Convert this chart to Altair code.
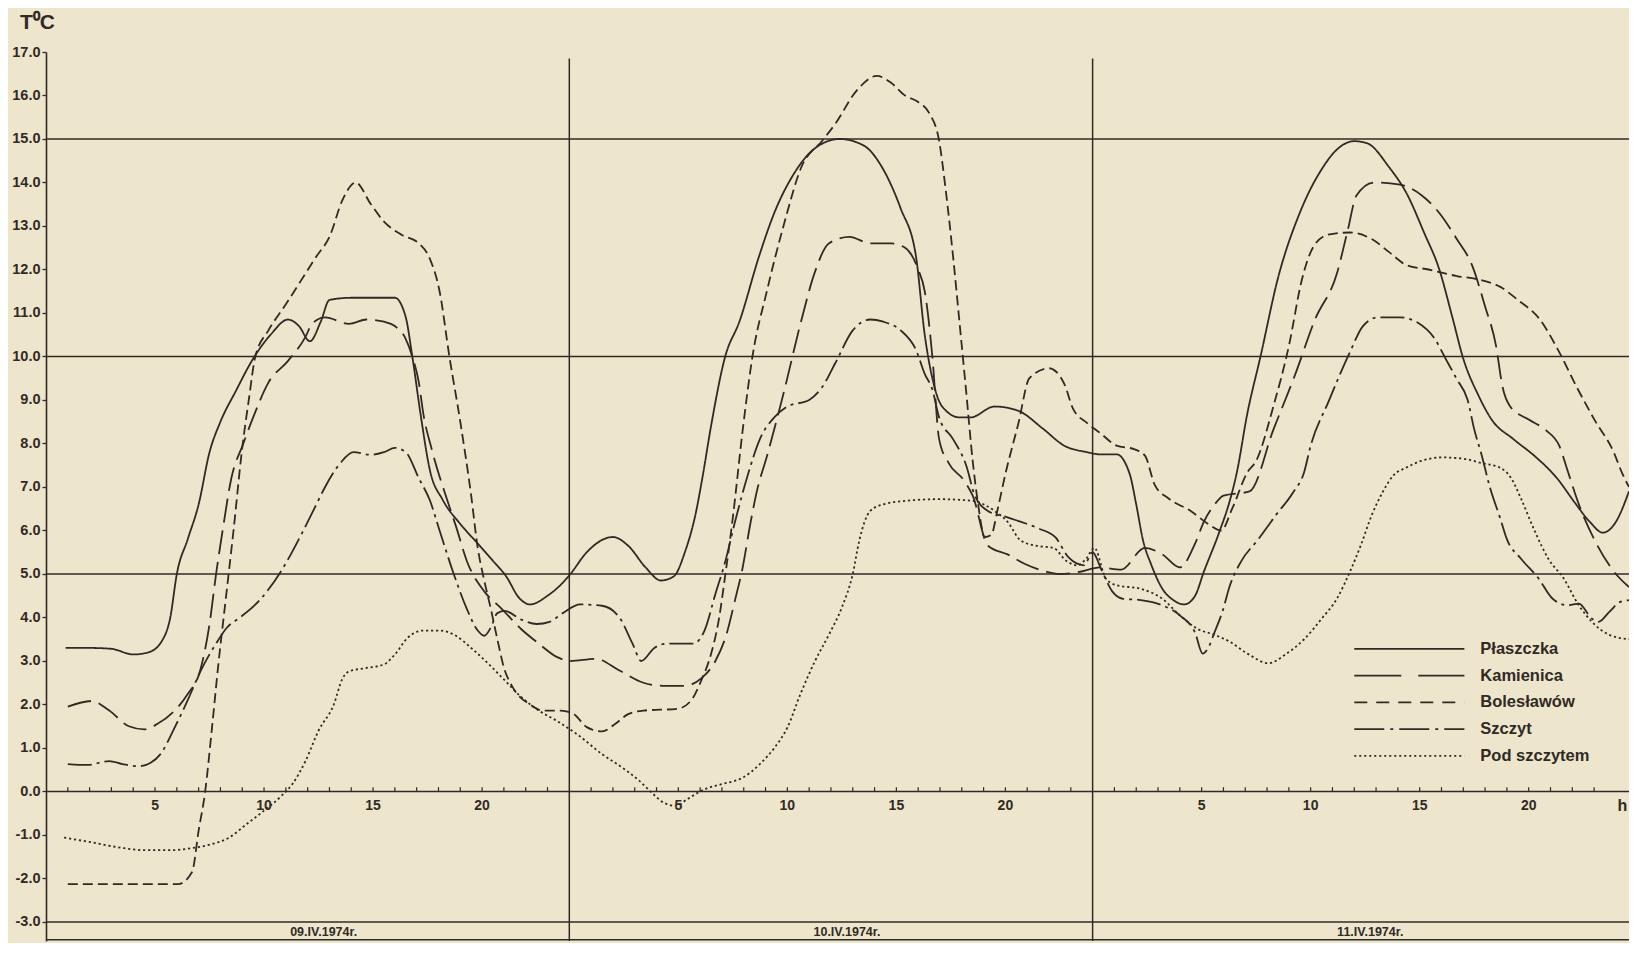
import altair as alt
import pandas as pd

# ---------------- data ----------------
stations = ["Płaszczka", "Kamienica", "Bolesławów", "Szczyt", "Pod szczytem"]
dates = ["09.IV.1974r.", "10.IV.1974r.", "11.IV.1974r."]
hour_labels = [5, 10, 15, 20]
y_ticks = list(range(-3, 18))
grid_levels = [15, 10, 5, 0, -3]
day_bounds = [24, 48]

plaszczka_h = [0.9, 2, 3, 4, 4.7, 5.3, 5.7, 6.0, 6.5, 7.0,
               7.5, 8.0, 8.7, 9.5, 10.3, 11.1, 11.6, 12.1, 12.6, 13.0,
               14, 15, 16, 16.5, 16.8, 17.2, 17.6, 18.2, 19.0, 19.8,
               20.5, 21.1, 21.7, 22.2, 23.0, 23.6, 24.05, 24.8, 26.0, 26.7,
               27.5, 28.2, 28.8, 29.3, 29.8, 30.1, 30.5, 31.15, 31.8, 32.7,
               33.4, 34.3, 35.3, 36.4, 37.5, 38.4, 39.2, 39.9, 40.3, 40.65,
               41.1, 41.9, 42.4, 43.5, 44.6, 45.7, 46.7, 47.75, 48.35, 49.1,
               49.7, 50.0, 50.3, 50.7, 51.2, 51.7, 52.2, 52.7, 53.1, 53.8,
               54.3, 54.6, 55.1, 55.7, 56.5, 57.5, 58.5, 59.3, 60.0, 60.6,
               61.6, 62.4, 63.2, 63.9, 64.5, 65.0, 65.7, 66.3, 67.3, 68.3,
               69.3, 70.1, 70.8, 71.4, 72.0, 72.6]
plaszczka_t = [3.3, 3.3, 3.28, 3.15, 3.2, 3.45, 4.0, 5.0, 5.8, 6.6,
               7.8, 8.5, 9.2, 9.95, 10.5, 10.85, 10.7, 10.35, 10.8, 11.3,
               11.35, 11.35, 11.35, 10.9, 10.0, 8.6, 7.4, 6.7, 6.15, 5.7,
               5.3, 4.95, 4.45, 4.3, 4.5, 4.75, 5.0, 5.5, 5.85, 5.65,
               5.15, 4.85, 4.95, 5.5, 6.4, 7.2, 8.4, 10.0, 10.8, 12.3,
               13.3, 14.2, 14.8, 15.0, 14.85, 14.3, 13.4, 12.3, 10.5, 9.5,
               8.85, 8.6, 8.6, 8.85, 8.75, 8.35, 7.95, 7.8, 7.75, 7.75,
               7.3, 6.6, 5.8, 5.2, 4.66, 4.4, 4.3, 4.5, 5.05, 5.95,
               6.7, 7.3, 8.7, 10.0, 11.8, 13.3, 14.3, 14.8, 14.95, 14.9,
               14.35, 13.75, 12.85, 12.0, 10.9, 9.95, 9.1, 8.55, 8.1, 7.7,
               7.2, 6.65, 6.2, 5.95, 6.2, 6.9]

kamienica_h = [1.0, 2.1, 2.9, 3.8, 4.5, 5.1, 5.9, 6.5, 7.07, 7.5,
               7.8, 8.1, 8.5, 9.05, 9.5, 10.2, 11.1, 11.9, 12.2, 12.8,
               13.9, 14.7, 15.5, 16.0, 16.5, 16.8, 17.1, 17.3, 17.7, 18.4,
               18.8, 19.3, 20.1, 20.9, 21.8, 22.6, 23.4, 24.05, 25.2, 26.3,
               27.4, 28.3, 29.3, 30.05, 30.7, 31.2, 31.6, 31.95, 32.3, 32.6,
               33.06, 33.85, 34.6, 35.27, 35.9, 36.85, 37.8, 38.74, 39.4, 40.0,
               40.3, 40.65, 40.96, 41.4, 42.1, 42.5, 43.2, 44.1, 44.9, 45.7,
               46.5, 47.3, 48.35, 49.3, 50.4, 51.2, 52.0, 52.7, 53.1, 53.6,
               54.0, 55.2, 56.3, 57.3, 58.2, 59.2, 59.7, 60.1, 60.9, 62.1,
               63.1, 63.9, 64.7, 65.4, 66.0, 66.5, 66.8, 67.15, 68.0, 68.8,
               69.4, 69.8, 70.3, 71.0, 72.0, 72.6]
kamienica_t = [1.95, 2.08, 1.86, 1.5, 1.43, 1.55, 1.86, 2.24, 2.78, 3.85,
               5.0, 6.0, 7.2, 8.0, 8.6, 9.4, 9.9, 10.45, 10.75, 10.9,
               10.75, 10.85, 10.8, 10.7, 10.4, 10.0, 9.4, 8.7, 7.85, 6.7,
               6.1, 5.3, 4.6, 4.2, 3.73, 3.4, 3.1, 3.0, 3.05, 2.78,
               2.5, 2.43, 2.43, 2.6, 3.0, 3.6, 4.4, 5.15, 6.15, 6.9,
               7.7, 9.2, 10.75, 11.95, 12.6, 12.75, 12.6, 12.6, 12.5, 12.0,
               11.5, 10.0, 8.1, 7.55, 7.15, 6.8, 5.65, 5.45, 5.23, 5.08,
               5.0, 5.04, 5.15, 5.1, 5.6, 5.45, 5.15, 5.7, 6.2, 6.6,
               6.8, 6.9, 8.33, 9.6, 10.85, 11.9, 12.9, 13.7, 14.0, 13.95,
               13.7, 13.3, 12.7, 12.1, 11.15, 10.25, 9.3, 8.85, 8.55, 8.3,
               7.95, 7.35, 6.6, 5.8, 5.0, 4.7]

boleslawow_h = [1.0, 3.0, 6.05, 6.7, 7.0, 7.3, 7.6, 7.9, 8.25, 8.6,
                9.0, 9.3, 9.6, 10.2, 11.0, 11.7, 12.4, 13.0, 13.6, 14.2,
                14.9, 15.5, 16.3, 17.1, 17.6, 18.05, 18.5, 19.0, 19.5, 19.8,
                20.1, 20.4, 20.7, 21.0, 21.4, 22.2, 22.8, 23.6, 24.2, 24.8,
                25.5, 26.1, 26.7, 27.4, 28.95, 29.6, 30.05, 30.5, 30.85, 31.16,
                31.5, 31.95, 32.4, 33.06, 33.85, 34.64, 35.6, 36.2, 37.16, 38.1,
                38.74, 39.4, 40.0, 40.5, 40.96, 41.27, 41.6, 41.9, 42.2, 42.5,
                42.75, 43.05, 43.35, 43.65, 44.0, 44.6, 45.1, 46.0, 46.7, 47.1,
                47.75, 48.35, 49.1, 49.9, 50.4, 50.85, 51.5, 52.5, 53.3, 53.9,
                54.4, 55.1, 55.5, 56.3, 57.0, 57.6, 58.1, 58.8, 59.8, 60.8,
                61.6, 62.4, 63.4, 64.7, 65.7, 66.7, 67.5, 68.5, 69.4, 70.2,
                71.0, 71.9, 72.3, 72.6]
boleslawow_t = [-2.13, -2.13, -2.13, -1.85, -0.9, 0.0, 1.4, 2.9, 4.45, 6.0,
                7.9, 9.0, 10.0, 10.6, 11.2, 11.75, 12.3, 12.75, 13.6, 14.0,
                13.5, 13.1, 12.8, 12.6, 12.25, 11.5, 10.0, 8.5, 6.8, 5.6,
                4.85, 4.2, 3.5, 2.85, 2.4, 2.0, 1.86, 1.86, 1.78, 1.48,
                1.38, 1.55, 1.78, 1.86, 1.9, 2.1, 2.55, 3.16, 3.93, 5.0,
                6.3, 8.3, 10.0, 11.5, 13.05, 14.35, 14.96, 15.35, 16.1, 16.45,
                16.3, 16.0, 15.85, 15.6, 14.96, 13.8, 12.3, 10.76, 9.2, 7.6,
                6.6, 5.85, 5.9, 6.5, 7.3, 8.47, 9.5, 9.73, 9.37, 8.8,
                8.47, 8.24, 7.95, 7.87, 7.72, 7.05, 6.73, 6.45, 6.15, 6.0,
                6.5, 7.34, 7.6, 8.87, 10.24, 11.77, 12.5, 12.8, 12.85, 12.7,
                12.4, 12.1, 12.0, 11.85, 11.77, 11.6, 11.3, 10.86, 10.1, 9.3,
                8.56, 7.8, 7.3, 7.0]

szczyt_h = [1.0, 1.9, 2.9, 3.5, 4.3, 4.8, 5.25, 5.9, 6.5, 7.1,
            7.8, 8.3, 8.9, 9.8, 10.8, 11.7, 12.4, 12.8, 13.5, 14.1,
            14.9, 15.5, 16.0, 16.5, 17.1, 17.6, 18.05, 18.7, 19.3, 19.8,
            20.1, 20.4, 20.7, 21.05, 21.8, 22.5, 23.1, 23.7, 24.5, 25.5,
            26.3, 26.9, 27.3, 27.9, 28.5, 29.7, 30.2, 30.7, 31.16, 31.6,
            32.2, 32.74, 33.4, 34.0, 35.0, 35.6, 36.2, 37.0, 37.8, 38.4,
            39.2, 39.9, 40.3, 40.65, 40.96, 41.6, 42.2, 42.6, 43.2, 44.1,
            45.5, 46.3, 46.9, 47.6, 48.0, 48.4, 48.9, 49.4, 50.2, 51.2,
            52.0, 52.7, 53.05, 53.3, 53.6, 53.95, 54.3, 54.8, 55.6, 56.4,
            57.2, 57.7, 58.0, 58.8, 59.8, 60.4, 61.1, 62.1, 62.9, 63.7,
            64.2, 64.7, 65.2, 65.5, 65.85, 66.2, 66.7, 67.0, 67.65, 68.45,
            69.1, 69.8, 70.3, 70.9, 71.2, 71.7, 72.2, 72.6]
szczyt_t = [0.63, 0.61, 0.7, 0.63, 0.58, 0.66, 0.86, 1.47, 2.1, 2.78,
            3.4, 3.77, 4.0, 4.4, 5.08, 5.9, 6.6, 7.0, 7.55, 7.8,
            7.74, 7.8, 7.9, 7.8, 7.2, 6.7, 6.0, 5.0, 4.2, 3.7,
            3.58, 3.77, 4.1, 4.15, 3.95, 3.85, 3.9, 4.1, 4.3, 4.27,
            4.0, 3.4, 3.0, 3.3, 3.4, 3.4, 3.7, 4.54, 5.3, 6.2,
            7.3, 8.1, 8.6, 8.85, 9.0, 9.3, 9.85, 10.6, 10.85, 10.8,
            10.6, 10.15, 9.6, 9.24, 8.6, 8.1, 7.5, 6.8, 6.45, 6.3,
            6.05, 5.84, 5.38, 5.2, 5.5, 5.1, 4.6, 4.43, 4.4, 4.28,
            4.05, 3.65, 3.17, 3.3, 3.67, 4.13, 4.74, 5.28, 5.8, 6.35,
            6.88, 7.34, 7.95, 8.94, 10.1, 10.7, 10.9, 10.9, 10.78, 10.4,
            9.94, 9.48, 9.0, 8.33, 7.72, 7.03, 6.27, 5.8, 5.35, 4.9,
            4.43, 4.28, 4.32, 3.97, 3.9, 4.13, 4.36, 4.4]

pod_h = [0.83, 2.1, 3.4, 4.5, 5.7, 6.7, 7.6, 8.4, 9.2, 10.0,
         10.8, 11.3, 11.9, 12.5, 13.2, 13.6, 13.9, 14.7, 15.5, 16.0,
         16.6, 17.3, 18.05, 18.8, 19.5, 20.3, 21.05, 21.8, 22.6, 23.4,
         24.4, 25.5, 26.4, 27.2, 27.85, 28.3, 28.9, 29.4, 30.2, 31.0,
         31.96, 32.74, 33.4, 34.0, 34.6, 35.27, 35.9, 36.5, 37.0, 37.3,
         37.8, 38.4, 39.4, 40.96, 42.5, 43.5, 44.1, 44.7, 45.4, 46.2,
         46.8, 47.3, 47.7, 48.08, 48.6, 49.1, 50.2, 51.2, 52.0, 52.8,
         53.6, 54.3, 55.1, 56.06, 56.9, 57.7, 58.5, 59.2, 59.8, 60.3,
         60.8, 61.3, 61.8, 62.4, 63.07, 64.05, 65.0, 65.85, 66.66, 67.2,
         67.65, 68.3, 68.9, 69.6, 70.3, 70.9, 71.7, 72.6]
pod_t = [-1.06, -1.17, -1.29, -1.35, -1.35, -1.3, -1.21, -1.06, -0.75, -0.44,
         -0.1, 0.17, 0.7, 1.4, 2.0, 2.6, 2.76, 2.84, 2.92, 3.15,
         3.54, 3.7, 3.7, 3.58, 3.3, 2.93, 2.55, 2.17, 1.86, 1.63,
         1.3, 0.86, 0.56, 0.25, -0.06, -0.25, -0.33, -0.18, 0.05, 0.17,
         0.32, 0.63, 1.0, 1.47, 2.24, 3.0, 3.6, 4.23, 5.0, 5.77,
         6.45, 6.6, 6.68, 6.72, 6.68, 6.45, 6.2, 5.77, 5.65, 5.6,
         5.3, 5.2, 5.35, 5.6, 4.9, 4.74, 4.66, 4.43, 4.05, 3.74,
         3.6, 3.44, 3.17, 2.95, 3.17, 3.5, 3.97, 4.43, 5.05, 5.66,
         6.35, 6.88, 7.27, 7.45, 7.6, 7.68, 7.65, 7.55, 7.45, 7.2,
         6.73, 5.96, 5.35, 4.9, 4.28, 3.9, 3.6, 3.5]

# ---------------- tables ----------------
series = {
    "Płaszczka": (plaszczka_h, plaszczka_t),
    "Kamienica": (kamienica_h, kamienica_t),
    "Bolesławów": (boleslawow_h, boleslawow_t),
    "Szczyt": (szczyt_h, szczyt_t),
    "Pod szczytem": (pod_h, pod_t),
}
rows = []
for name, (hs, ts) in series.items():
    assert len(hs) == len(ts), name
    rows += [{"hour": h, "temp": t, "station": name} for h, t in zip(hs, ts)]
df = pd.DataFrame(rows)

ticks_df = pd.DataFrame({"hour": [h for h in range(1, 73) if h % 24 != 0]})
hl_df = pd.DataFrame([{"hour": d * 24 + v, "label": str(v)} for d in range(3) for v in hour_labels])
date_df = pd.DataFrame({"hour": [d * 24 + 12 for d in range(3)], "label": dates})
grid_df = pd.DataFrame({"v": grid_levels})
bound_df = pd.DataFrame({"hour": day_bounds})
one_df = pd.DataFrame({"k": [0]})
legend_df = pd.DataFrame({"entry": stations, "i": list(range(len(stations)))})

# ---------------- style ----------------
INK = "#302a24"
BG = "#eee5cd"
FONT = "Liberation Sans"
X_MAX = 72.6
Y_MIN, Y_MAX = -3.437, 17.0

xs = alt.Scale(domain=[0, X_MAX], nice=False, zero=False)
ys = alt.Scale(domain=[Y_MIN, Y_MAX], nice=False, zero=False)

dash_range = [[1, 0], [24, 8], [10, 5], [24, 5, 3, 5], [2.2, 2.8]]
legend_dash = [[1, 0], [47, 17], [13, 9], [30, 6, 3, 6], [2, 3]]

y_axis = alt.Axis(
    values=y_ticks, title=None, grid=False,
    labelExpr="replace(format(datum.value, '.1f'), '\u2212', '-')",
    domain=True, domainColor=INK, domainWidth=1.6,
    ticks=True, tickSize=4, tickColor=INK, tickWidth=1.3,
    labelFont=FONT, labelFontSize=14.5, labelFontWeight="bold",
    labelColor=INK, labelPadding=2,
)


def Y(field):
    return alt.Y(field, scale=ys, axis=y_axis)


def X(field):
    return alt.X(field, scale=xs, axis=None)


lines = alt.Chart(df).mark_line(
    color=INK, strokeWidth=1.8, interpolate="monotone", clip=True
).encode(
    x=X("hour:Q"),
    y=Y("temp:Q"),
    strokeDash=alt.StrokeDash(
        "station:N", scale=alt.Scale(domain=stations, range=dash_range), legend=None
    ),
)

grid = alt.Chart(grid_df).mark_rule(color=INK, strokeWidth=1.5).encode(y=Y("v:Q"))

bounds = alt.Chart(bound_df).mark_rule(color=INK, strokeWidth=1.5).transform_calculate(
    top="16.85", bot=str(Y_MIN)
).encode(x=X("hour:Q"), y=Y("top:Q"), y2="bot:Q")

bottom_line = alt.Chart(one_df).mark_rule(color=INK, strokeWidth=1.5).transform_calculate(
    yb="-3.41"
).encode(y=Y("yb:Q"))

ticks = alt.Chart(ticks_df).mark_rule(color=INK, strokeWidth=1.2).transform_calculate(
    y0="0", y1="0.1"
).encode(x=X("hour:Q"), y=Y("y0:Q"), y2="y1:Q")

hour_text = alt.Chart(hl_df).mark_text(
    font=FONT, fontSize=14, fontWeight="bold", color=INK, baseline="middle", dy=15
).transform_calculate(y0="0").encode(x=X("hour:Q"), y=Y("y0:Q"), text="label:N")

h_text = alt.Chart(one_df).mark_text(
    font=FONT, fontSize=16, fontWeight="bold", color=INK, baseline="middle", dy=15, text="h"
).transform_calculate(hx="72.3", y0="0").encode(x=X("hx:Q"), y=Y("y0:Q"))

date_text = alt.Chart(date_df).mark_text(
    font=FONT, fontSize=12.5, fontWeight="bold", color=INK, baseline="middle", dx=16
).transform_calculate(yd="-3.22").encode(x=X("hour:Q"), y=Y("yd:Q"), text="label:N")

unit_text = alt.Chart(one_df).mark_text(
    font=FONT, fontSize=21, fontWeight="bold", color=INK, align="left",
    baseline="middle", text="T\u2070C"
).encode(x=alt.value(-26), y=alt.value(-29))

# legend drawn as marks (lower right of the plot)
legend_pos = alt.Chart(legend_df).transform_calculate(
    ly="3.28 - 0.615 * datum.i", lx1="60.0", lx2="65.05", ltx="65.78"
)
legend_lines = legend_pos.mark_rule(color=INK, strokeWidth=1.8).encode(
    x=X("lx1:Q"), x2="lx2:Q", y=Y("ly:Q"),
    strokeDash=alt.StrokeDash(
        "entry:N", scale=alt.Scale(domain=stations, range=legend_dash), legend=None
    ),
)
legend_text = legend_pos.mark_text(
    font=FONT, fontSize=16.5, fontWeight="bold", color=INK, align="left", baseline="middle"
).encode(x=X("ltx:Q"), y=Y("ly:Q"), text="entry:N")

chart = alt.layer(
    lines, grid, bottom_line, bounds, ticks, hour_text, h_text, date_text, unit_text,
    legend_lines, legend_text,
).resolve_scale(strokeDash="independent").properties(
    width=1583, height=889,
    autosize=alt.AutoSizeParams(type="none"),
    padding={"left": 38, "top": 44, "right": 0, "bottom": 2},
    background=BG,
).configure_view(stroke=None)

chart.save("out.html", embed_options={"renderer": "svg", "actions": False})
